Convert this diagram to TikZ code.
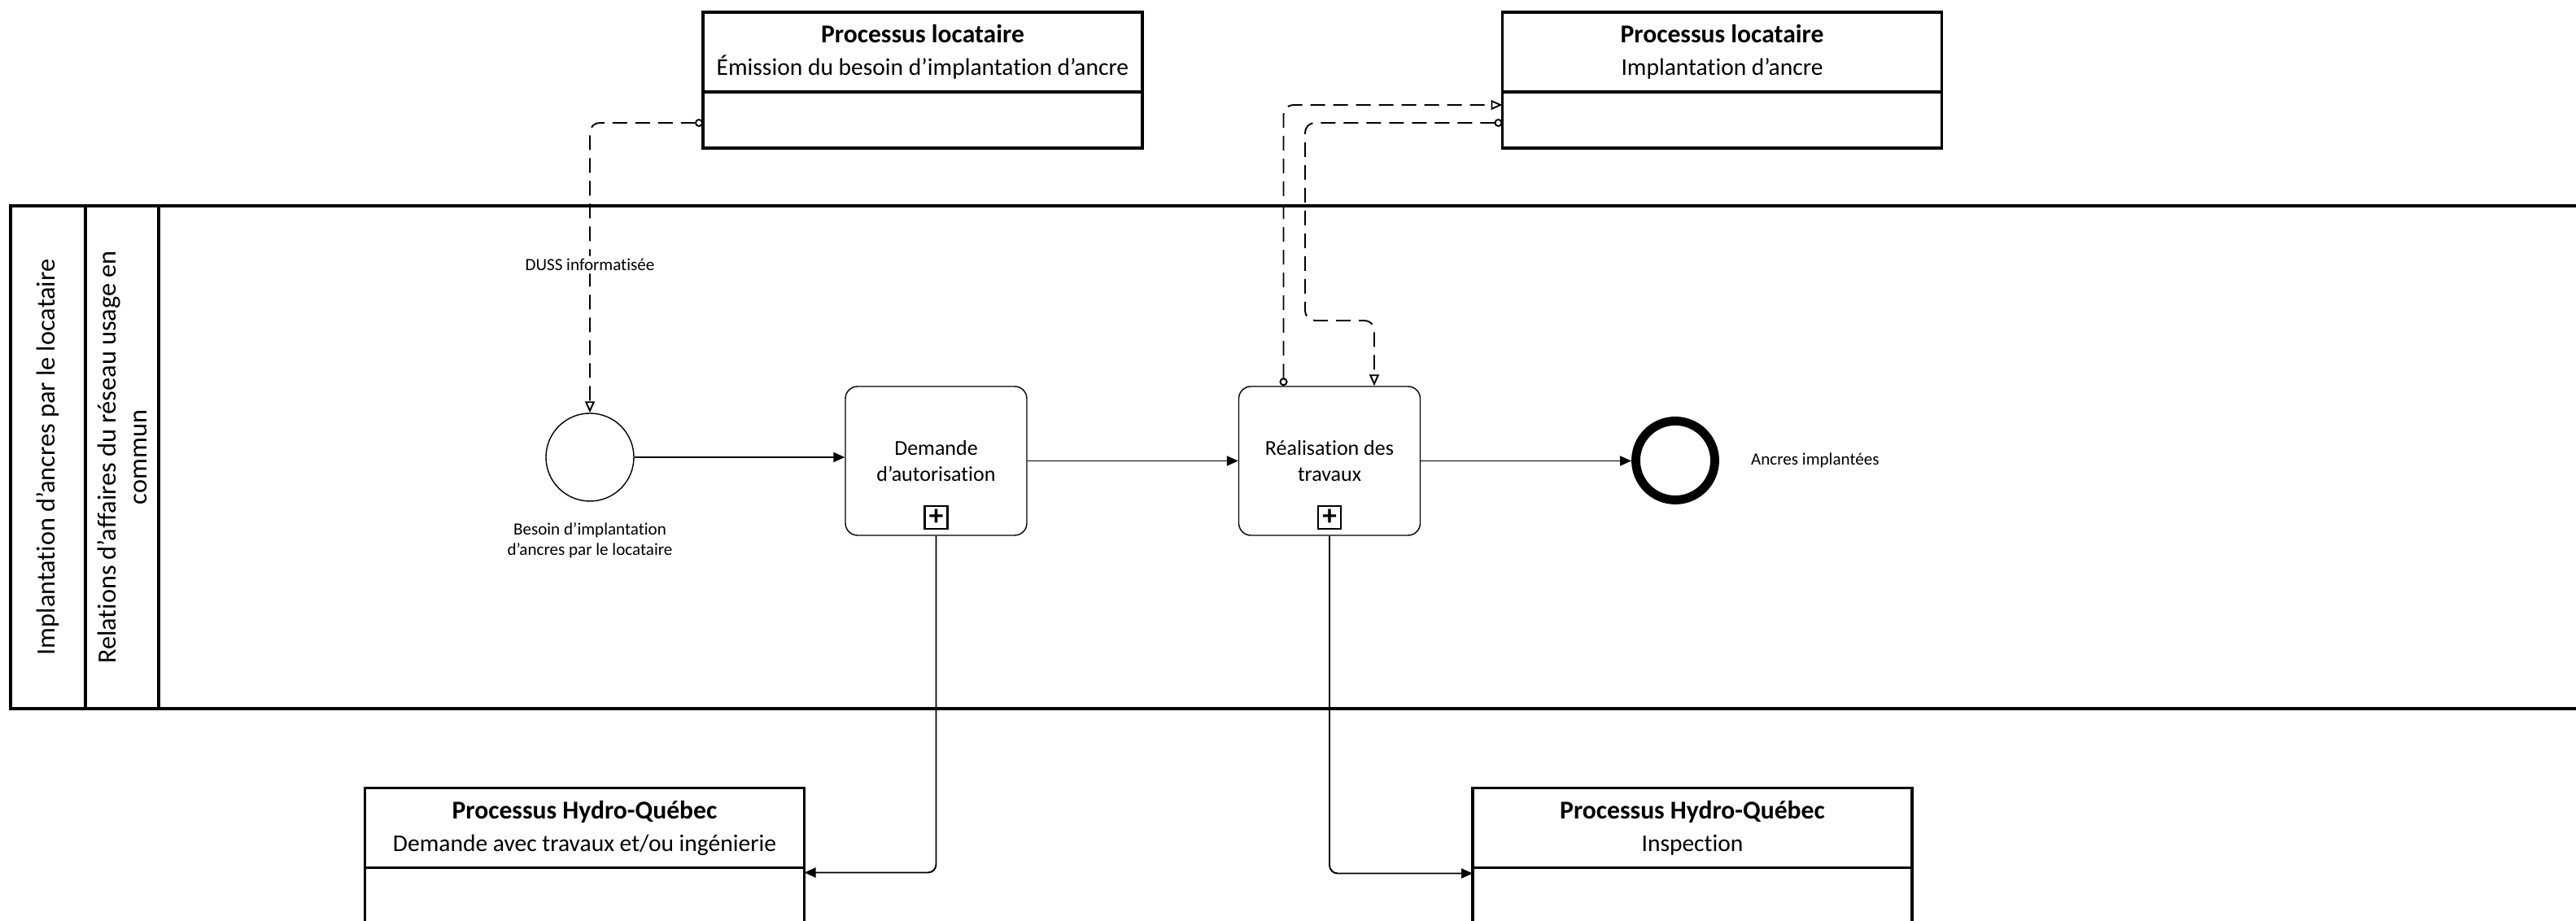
\documentclass[tikz,border=0pt]{standalone}
\usepackage{fontspec}
\setmainfont{Carlito}[Ligatures=NoCommon]
\usetikzlibrary{positioning,arrows.meta}
\usetikzlibrary{calc}
\newcommand{\ptl}[1]{{\bfseries\fontsize{9}{11.4}\selectfont #1}}

\begin{document}
\begin{tikzpicture}[
  hd/.style={draw, line width=0.9pt, outer sep=0pt, inner sep=0pt, minimum width=5.4cm, minimum height=0.98cm, align=center, font=\fontsize{8.4}{11.4}\selectfont},
  bd/.style={draw, line width=0.9pt, outer sep=0pt, inner sep=0pt, minimum width=5.4cm, minimum height=0.69cm, below=0pt of #1},
  lane/.style={rotate=90, align=center, font=\fontsize{9.2}{10.8}\selectfont},
  task/.style={draw, rounded corners=0.15cm, line width=0.4pt, minimum width=2.23cm, minimum height=1.83cm, align=center, font=\fontsize{7.4}{8.9}\selectfont},
  mk/.style={draw, line width=0.6pt, minimum size=0.28cm, inner sep=0pt, font=\bfseries\fontsize{10}{10}\selectfont},
  ev/.style={circle, draw, minimum size=1.08cm, inner sep=0pt, line width=0.4pt},
  lbl/.style={align=center, inner sep=1pt, font=\fontsize{6}{7.1}\selectfont},
  seq/.style={-{Triangle[length=1.4mm, width=1.2mm]}, line width=0.55pt, rounded corners=0.1cm},
  msg/.style={{Circle[open, length=1mm]}-{Triangle[open, length=1.4mm, width=1.2mm]}, line width=0.55pt, dash pattern=on 1.8mm off 1mm, rounded corners=0.12cm}]
\useasboundingbox (0,0) rectangle (31.66,11.32);
\clip (0,0) rectangle (31.66,11.32);
% pool and lanes
\draw[line width=0.9pt] (32,8.79) -- (0.13,8.79) -- (0.13,2.61) -- (32,2.61);
\draw[line width=0.9pt] (1.05,8.79) -- (1.05,2.61) (1.95,8.79) -- (1.95,2.61);
\node[lane] (l1) at (0.59,5.70) {Implantation d’ancres par le locataire};
\node[lane] (l2) at (1.50,5.70) {Relations d’affaires du réseau usage en\\commun};
% other processes
\node[hd] (pa) at (11.34,10.68) {\ptl{Processus locataire}\\Émission du besoin d’implantation d’ancre};
\node[bd=pa] (pab) {};
\node[hd] (pb) at (21.165,10.68) {\ptl{Processus locataire}\\Implantation d’ancre};
\node[bd=pb] (pbb) {};
\node[hd] (qa) at (7.185,1.145) {\ptl{Processus Hydro-Québec}\\Demande avec travaux et/ou ingénierie};
\node[bd=qa] (qab) {};
\node[hd] (qb) at (20.80,1.145) {\ptl{Processus Hydro-Québec}\\Inspection};
\node[bd=qb] (qbb) {};
% flow
\node[ev] (s) at (7.25,5.70) {};
\node[lbl, below=0.22cm of s] (sl) {Besoin d’implantation\\d’ancres par le locataire};
\node[task] (ta) at (11.505,5.655) {Demande\\d’autorisation};
\node[task] (tb) at (16.34,5.655) {Réalisation des\\travaux};
\node[mk, above=0.08cm of ta.south] (ma) {+};
\node[mk, above=0.08cm of tb.south] (mb) {+};
\node[ev, line width=3.1pt, minimum size=0.97cm] (e) at (20.59,5.66) {};
\node[lbl, right=0.35cm of e] (el) {Ancres implantées};
\coordinate (bk) at (16.04,7.38);
\foreach \u/\v in {s/ta, ta/tb, tb/e} \draw[seq] (\u.east) -- (\u.east -| \v.west);
\draw[seq] (ta.south) |- ($(qab.north east)+(0,-0.06)$);
\draw[seq] (tb.south) |- ($(qbb.north west)+(0,-0.07)$);
\draw[msg] ([yshift=-0.35mm]pab.west) -| node[lbl, pos=0.745, fill=white] (du) {DUSS informatisée} (s.north);
\draw[msg] ([xshift=-5.65mm]tb.north) |- ([yshift=1.85mm]pbb.west);
\draw[msg] ([yshift=-0.35mm]pbb.west) -| (bk) -| ([xshift=5.5mm]tb.north);
\end{tikzpicture}
\end{document}
